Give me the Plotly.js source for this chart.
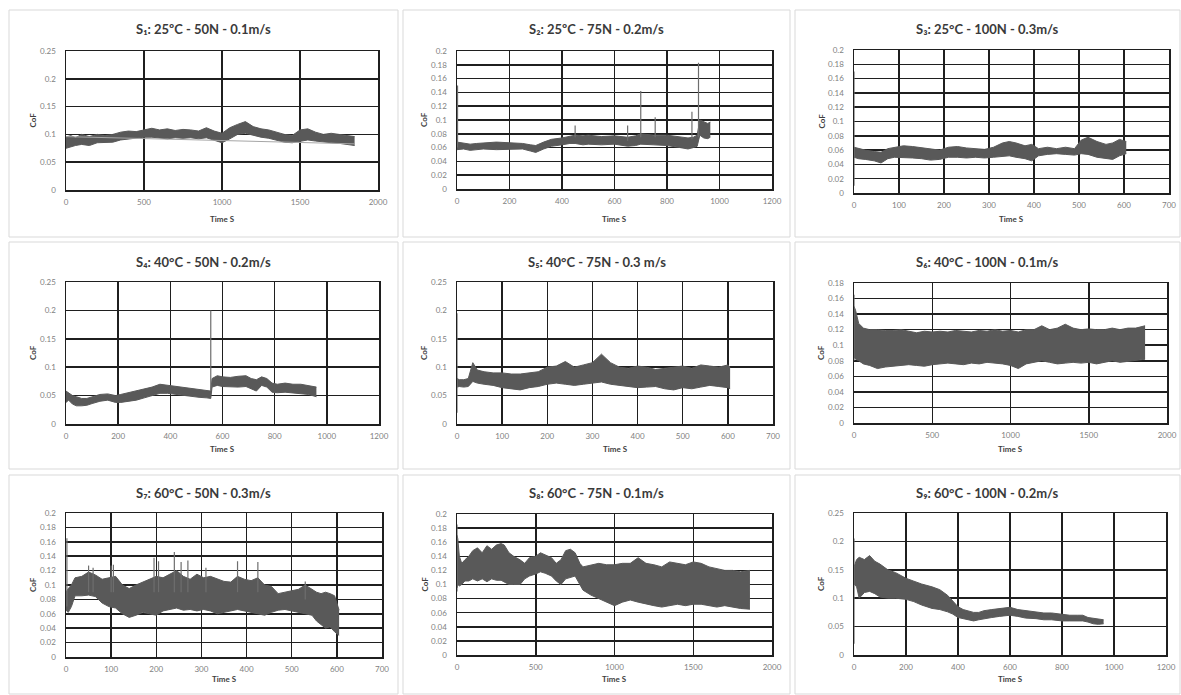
<!DOCTYPE html>
<html>
<head>
<meta charset="utf-8">
<script src="https://cdn.plot.ly/plotly-3.0.1.min.js"></script>
<style>html,body{margin:0;padding:0;background:#fff;}#chart{width:1181px;height:695px;}</style>
</head>
<body>
<div id="chart"></div>
<script>
// ---------- Titles ----------
const titles = [
  "S₁: 25ºC - 50N - 0.1m/s",
  "S₂: 25ºC - 75N - 0.2m/s",
  "S₃: 25°C - 100N - 0.3m/s",
  "S₄: 40°C - 50N - 0.2m/s",
  "S₅: 40°C - 75N - 0.3 m/s",
  "S₆: 40°C - 100N - 0.1m/s",
  "S₇: 60°C - 50N - 0.3m/s",
  "S₈: 60°C - 75N - 0.1m/s",
  "S₉: 60°C - 100N - 0.2m/s"
];
const xTitle = "Time S";
const yTitle = "CoF";

// ---------- Axis scales ----------
const xMax  = [2000, 1200, 700, 1200, 700, 2000, 700, 2000, 1200];
const xStep = [500, 200, 100, 200, 100, 500, 100, 500, 200];
const yMax  = [0.25, 0.2, 0.2, 0.25, 0.25, 0.18, 0.2, 0.2, 0.25];
const yStep = [0.05, 0.02, 0.02, 0.05, 0.05, 0.02, 0.02, 0.02, 0.05];

// ---------- S1 ----------
const s1_t  = [0,30,60,100,150,200,250,300,350,400,450,500,550,600,650,700,750,800,850,900,950,1000,1050,1100,1150,1200,1250,1300,1350,1400,1450,1500,1550,1600,1650,1700,1750,1800,1850];
const s1_hi = [0.095,0.098,0.094,0.1,0.096,0.1,0.098,0.1,0.104,0.106,0.105,0.108,0.111,0.108,0.11,0.107,0.109,0.108,0.106,0.112,0.106,0.102,0.112,0.118,0.123,0.114,0.11,0.108,0.104,0.1,0.098,0.108,0.11,0.104,0.1,0.102,0.1,0.098,0.096];
const s1_lo = [0.075,0.078,0.08,0.082,0.08,0.085,0.085,0.086,0.09,0.092,0.094,0.095,0.095,0.094,0.092,0.094,0.093,0.094,0.092,0.094,0.09,0.085,0.092,0.1,0.102,0.098,0.095,0.093,0.09,0.086,0.085,0.088,0.09,0.088,0.086,0.085,0.084,0.082,0.08];
const s1_spikeT = [], s1_spikeLo = [], s1_spikeHi = [];
const s1_trendT = [0, 1850], s1_trendY = [0.096, 0.083];

// ---------- S2 ----------
const s2_t  = [0,25,50,75,100,150,200,250,280,300,330,360,400,430,450,480,500,550,600,650,680,700,750,800,850,880,900,915,925,940,955,965];
const s2_hi = [0.068,0.066,0.065,0.066,0.067,0.068,0.067,0.066,0.064,0.063,0.068,0.072,0.074,0.076,0.078,0.077,0.078,0.076,0.077,0.075,0.077,0.08,0.078,0.078,0.076,0.074,0.075,0.078,0.1,0.098,0.095,0.097];
const s2_lo = [0.057,0.058,0.056,0.057,0.058,0.057,0.058,0.058,0.055,0.053,0.058,0.062,0.064,0.066,0.066,0.064,0.065,0.064,0.065,0.062,0.063,0.065,0.064,0.063,0.06,0.058,0.06,0.062,0.078,0.074,0.073,0.075];
const s2_spikeT  = [2,450,650,700,755,895,920];
const s2_spikeLo = [0.06,0.075,0.07,0.075,0.075,0.072,0.075];
const s2_spikeHi = [0.15,0.092,0.092,0.142,0.104,0.112,0.183];

// ---------- S3 ----------
const s3_t  = [0,10,25,45,60,75,90,110,130,150,170,190,210,230,250,270,290,310,330,345,360,380,395,410,430,450,470,490,505,520,540,560,575,590,605];
const s3_hi = [0.064,0.062,0.06,0.058,0.057,0.062,0.064,0.066,0.065,0.063,0.061,0.06,0.064,0.065,0.063,0.062,0.061,0.064,0.07,0.072,0.07,0.066,0.068,0.062,0.064,0.062,0.064,0.062,0.074,0.078,0.072,0.068,0.07,0.075,0.072];
const s3_lo = [0.05,0.048,0.047,0.045,0.042,0.048,0.05,0.05,0.049,0.048,0.046,0.047,0.05,0.05,0.049,0.05,0.049,0.05,0.051,0.052,0.05,0.048,0.045,0.052,0.054,0.055,0.054,0.053,0.055,0.054,0.05,0.048,0.047,0.052,0.055];
const s3_spikeT = [0], s3_spikeLo = [0.01], s3_spikeHi = [0.17];

// ---------- S4 ----------
const s4_t  = [0,10,25,40,60,80,100,130,160,190,210,240,270,300,330,360,390,420,450,480,510,540,555,560,580,600,630,660,690,710,730,750,770,790,810,840,870,900,930,960];
const s4_hi = [0.058,0.055,0.05,0.048,0.045,0.045,0.048,0.052,0.053,0.05,0.052,0.055,0.058,0.062,0.065,0.07,0.068,0.066,0.064,0.062,0.06,0.058,0.058,0.08,0.085,0.083,0.082,0.084,0.085,0.08,0.078,0.083,0.08,0.072,0.07,0.072,0.07,0.07,0.068,0.065];
const s4_lo = [0.038,0.042,0.035,0.032,0.032,0.033,0.036,0.04,0.042,0.038,0.038,0.04,0.042,0.046,0.05,0.054,0.054,0.052,0.05,0.048,0.047,0.046,0.045,0.065,0.068,0.066,0.065,0.065,0.066,0.062,0.058,0.068,0.065,0.056,0.055,0.056,0.055,0.054,0.052,0.048];
const s4_spikeT = [555], s4_spikeLo = [0.06], s4_spikeHi = [0.2];

// ---------- S5 ----------
const s5_t  = [0,5,15,25,35,45,60,80,100,120,140,160,180,200,220,240,260,280,300,320,340,360,380,400,420,440,460,480,500,520,540,560,580,600,605];
const s5_hi = [0.08,0.078,0.078,0.08,0.108,0.095,0.092,0.09,0.09,0.088,0.088,0.09,0.092,0.1,0.102,0.11,0.1,0.104,0.108,0.123,0.108,0.1,0.098,0.102,0.1,0.096,0.098,0.1,0.102,0.098,0.104,0.102,0.1,0.104,0.1];
const s5_lo = [0.065,0.066,0.065,0.066,0.075,0.072,0.07,0.068,0.064,0.062,0.06,0.064,0.066,0.07,0.072,0.07,0.068,0.07,0.072,0.074,0.07,0.068,0.066,0.064,0.065,0.066,0.062,0.06,0.064,0.062,0.065,0.068,0.066,0.064,0.062];
const s5_spikeT = [0], s5_spikeLo = [0.02], s5_spikeHi = [0.195];

// ---------- S6 ----------
const s6_t  = [0,10,30,60,100,150,200,250,300,350,400,450,500,550,600,650,700,750,800,850,900,950,1000,1050,1100,1150,1200,1250,1300,1350,1400,1450,1500,1550,1600,1650,1700,1750,1800,1860];
const s6_hi = [0.15,0.145,0.128,0.122,0.12,0.12,0.119,0.119,0.12,0.118,0.116,0.118,0.117,0.118,0.117,0.119,0.118,0.117,0.119,0.118,0.12,0.118,0.119,0.117,0.12,0.12,0.125,0.12,0.122,0.127,0.122,0.12,0.121,0.12,0.12,0.122,0.12,0.122,0.122,0.125];
const s6_lo = [0.085,0.082,0.08,0.076,0.074,0.07,0.072,0.073,0.074,0.075,0.074,0.073,0.075,0.076,0.077,0.076,0.075,0.077,0.076,0.078,0.077,0.076,0.074,0.07,0.076,0.078,0.08,0.078,0.076,0.077,0.078,0.077,0.078,0.076,0.078,0.08,0.078,0.079,0.08,0.082];
const s6_spikeT = [0], s6_spikeLo = [0.08], s6_spikeHi = [0.165];

// ---------- S7 ----------
const s7_t  = [0,5,12,20,35,50,65,80,95,110,125,140,155,170,185,200,215,230,245,260,275,290,305,320,335,350,365,380,395,410,425,440,455,470,485,500,515,530,545,555,565,575,585,595,605];
const s7_hi = [0.09,0.095,0.1,0.11,0.112,0.118,0.114,0.108,0.11,0.112,0.1,0.095,0.1,0.104,0.108,0.112,0.11,0.115,0.12,0.112,0.108,0.115,0.11,0.112,0.108,0.105,0.104,0.112,0.108,0.106,0.11,0.1,0.098,0.088,0.09,0.092,0.094,0.1,0.094,0.09,0.088,0.09,0.088,0.085,0.065];
const s7_lo = [0.065,0.062,0.07,0.085,0.085,0.086,0.084,0.075,0.07,0.068,0.06,0.055,0.058,0.062,0.06,0.058,0.064,0.066,0.068,0.065,0.066,0.064,0.066,0.064,0.06,0.062,0.064,0.066,0.064,0.062,0.06,0.058,0.062,0.065,0.066,0.064,0.062,0.06,0.058,0.05,0.045,0.04,0.042,0.035,0.03];
const s7_spikeT  = [2,50,60,100,105,195,205,240,255,270,310,380,425,530];
const s7_spikeLo = [0.07,0.09,0.09,0.09,0.09,0.09,0.09,0.09,0.09,0.09,0.09,0.09,0.09,0.08];
const s7_spikeHi = [0.165,0.127,0.124,0.127,0.128,0.138,0.133,0.146,0.132,0.134,0.124,0.133,0.132,0.105];

// ---------- S8 ----------
const s8_t  = [0,5,15,30,50,75,100,130,160,190,220,250,280,300,330,360,400,430,460,500,530,560,600,630,660,690,720,750,780,800,850,900,950,1000,1050,1100,1150,1200,1250,1300,1350,1400,1450,1500,1550,1600,1650,1700,1750,1800,1860];
const s8_hi = [0.17,0.165,0.14,0.13,0.135,0.14,0.148,0.152,0.145,0.155,0.15,0.156,0.158,0.156,0.145,0.14,0.135,0.13,0.138,0.14,0.145,0.142,0.138,0.13,0.135,0.148,0.15,0.145,0.13,0.125,0.128,0.13,0.128,0.128,0.13,0.13,0.138,0.13,0.128,0.125,0.132,0.13,0.128,0.132,0.13,0.125,0.122,0.12,0.12,0.118,0.12];
const s8_lo = [0.095,0.1,0.098,0.1,0.105,0.105,0.108,0.105,0.108,0.104,0.108,0.106,0.106,0.104,0.1,0.1,0.1,0.108,0.112,0.115,0.118,0.116,0.112,0.105,0.1,0.108,0.11,0.112,0.1,0.092,0.085,0.08,0.075,0.07,0.075,0.078,0.075,0.072,0.07,0.068,0.07,0.072,0.07,0.072,0.072,0.07,0.068,0.07,0.068,0.066,0.065];
const s8_spikeT = [0], s8_spikeLo = [0.09], s8_spikeHi = [0.185];

// ---------- S9 ----------
const s9_t  = [0,10,20,40,60,80,100,130,160,200,230,260,300,330,360,380,400,420,440,460,480,500,530,560,600,630,660,700,730,760,800,830,860,880,900,920,940,960];
const s9_hi = [0.155,0.168,0.172,0.168,0.175,0.165,0.16,0.15,0.145,0.135,0.13,0.125,0.12,0.115,0.105,0.095,0.085,0.08,0.078,0.075,0.075,0.078,0.08,0.082,0.084,0.08,0.078,0.076,0.074,0.074,0.072,0.07,0.07,0.07,0.066,0.065,0.064,0.062];
const s9_lo = [0.125,0.12,0.1,0.11,0.112,0.108,0.102,0.1,0.1,0.098,0.094,0.088,0.082,0.08,0.076,0.072,0.066,0.064,0.062,0.06,0.062,0.064,0.066,0.068,0.07,0.068,0.065,0.064,0.062,0.062,0.06,0.06,0.06,0.06,0.058,0.055,0.054,0.055];
const s9_spikeT = [0], s9_spikeLo = [0.02], s9_spikeHi = [0.205];

const panels = [
  {t:s1_t, hi:s1_hi, lo:s1_lo, sT:s1_spikeT, sLo:s1_spikeLo, sHi:s1_spikeHi, trT:s1_trendT, trY:s1_trendY},
  {t:s2_t, hi:s2_hi, lo:s2_lo, sT:s2_spikeT, sLo:s2_spikeLo, sHi:s2_spikeHi},
  {t:s3_t, hi:s3_hi, lo:s3_lo, sT:s3_spikeT, sLo:s3_spikeLo, sHi:s3_spikeHi},
  {t:s4_t, hi:s4_hi, lo:s4_lo, sT:s4_spikeT, sLo:s4_spikeLo, sHi:s4_spikeHi},
  {t:s5_t, hi:s5_hi, lo:s5_lo, sT:s5_spikeT, sLo:s5_spikeLo, sHi:s5_spikeHi},
  {t:s6_t, hi:s6_hi, lo:s6_lo, sT:s6_spikeT, sLo:s6_spikeLo, sHi:s6_spikeHi},
  {t:s7_t, hi:s7_hi, lo:s7_lo, sT:s7_spikeT, sLo:s7_spikeLo, sHi:s7_spikeHi},
  {t:s8_t, hi:s8_hi, lo:s8_lo, sT:s8_spikeT, sLo:s8_spikeLo, sHi:s8_spikeHi},
  {t:s9_t, hi:s9_hi, lo:s9_lo, sT:s9_spikeT, sLo:s9_spikeLo, sHi:s9_spikeHi}
];

// ---------- Layout geometry (pixels) ----------
const W = 1181, H = 695;
const plotBoxes = [ // [left, right, top, bottom]
  [66,378,51,190],[457,772,51,189],[854,1169,50,193],
  [66,379,282,424],[457,773,282,424],[854,1167,283,423],
  [66,382,513,657],[457,772,514,655],[854,1166,513,655]
];
const colBoxes = [[9,398],[403,790],[795,1180]];
const rowBoxes = [[10,237],[242,469],[475,694]];
const titleY = [29, 262, 493];
const xTitleY = [219, 449, 679];
const yTitleX = [33, 424, 821];

const FONT = "Lato, 'Open Sans', sans-serif";
const DARK = "#595959";
const GRID = "#1f1f1f";

const traces = [];
const layout = {
  width: W, height: H,
  margin: {l:0, r:0, t:0, b:0},
  paper_bgcolor: "#fff",
  plot_bgcolor: "#fff",
  showlegend: false,
  font: {family: FONT, size: 8, color: "#404040"},
  shapes: [],
  annotations: []
};

panels.forEach((p, i) => {
  const n = i + 1;
  const xa = n === 1 ? "x" : "x" + n;
  const ya = n === 1 ? "y" : "y" + n;
  const b = plotBoxes[i];
  traces.push({x: p.t, y: p.lo, xaxis: xa, yaxis: ya, type: "scatter", mode: "lines",
    line: {color: DARK, width: 1}, hoverinfo: "skip"});
  traces.push({x: p.t, y: p.hi, xaxis: xa, yaxis: ya, type: "scatter", mode: "lines",
    line: {color: DARK, width: 1}, fill: "tonexty", fillcolor: DARK, hoverinfo: "skip"});
  if (p.sT && p.sT.length) {
    const sx = [], sy = [];
    p.sT.forEach((t, k) => { sx.push(t, t, null); sy.push(p.sLo[k], p.sHi[k], null); });
    traces.push({x: sx, y: sy, xaxis: xa, yaxis: ya, type: "scatter", mode: "lines",
      line: {color: "#6e6e6e", width: 1.2}, connectgaps: false, hoverinfo: "skip"});
  }
  if (p.trT) {
    traces.push({x: p.trT, y: p.trY, xaxis: xa, yaxis: ya, type: "scatter", mode: "lines",
      line: {color: "#a6a6a6", width: 1}, hoverinfo: "skip"});
  }
  const axKey = n === 1 ? "" : String(n);
  layout["xaxis" + axKey] = {
    domain: [b[0] / W, b[1] / W],
    anchor: ya,
    range: [0, xMax[i]], dtick: xStep[i], tick0: 0,
    showgrid: true, gridcolor: GRID, gridwidth: 1.5,
    showline: true, linecolor: GRID, linewidth: 1.5, mirror: true,
    zeroline: false, ticks: "", ticklabelstandoff: 4,
    tickfont: {family: FONT, size: 8, color: "#7f7f7f"},
    fixedrange: true
  };
  layout["yaxis" + axKey] = {
    domain: [1 - b[3] / H, 1 - b[2] / H],
    anchor: xa,
    range: [0, yMax[i]], dtick: yStep[i], tick0: 0,
    showgrid: true, gridcolor: GRID, gridwidth: 1.5,
    showline: true, linecolor: GRID, linewidth: 1.5, mirror: true,
    zeroline: false, ticks: "", ticklabelstandoff: 7,
    tickfont: {family: FONT, size: 8, color: "#7f7f7f"},
    fixedrange: true
  };
  const col = i % 3, row = Math.floor(i / 3);
  const cb = colBoxes[col], rb = rowBoxes[row];
  layout.shapes.push({type: "rect", xref: "paper", yref: "paper",
    x0: cb[0] / W, x1: cb[1] / W, y0: 1 - rb[1] / H, y1: 1 - rb[0] / H,
    line: {color: "#d9d9d9", width: 1}, layer: "below"});
  layout.annotations.push({
    text: titles[i], xref: "paper", yref: "paper",
    x: (cb[0] + cb[1]) / 2 / W, y: 1 - titleY[row] / H,
    xanchor: "center", yanchor: "middle", showarrow: false,
    font: {family: FONT, size: 13, color: "#3a3a3a", weight: "bold"}
  });
  layout.annotations.push({
    text: xTitle, xref: "paper", yref: "paper",
    x: (b[0] + b[1]) / 2 / W, y: 1 - xTitleY[row] / H,
    xanchor: "center", yanchor: "middle", showarrow: false,
    font: {family: FONT, size: 8, color: "#404040", weight: "bold"}
  });
  layout.annotations.push({
    text: yTitle, xref: "paper", yref: "paper", textangle: -90,
    x: yTitleX[col] / W, y: 1 - (b[2] + b[3]) / 2 / H,
    xanchor: "center", yanchor: "middle", showarrow: false,
    font: {family: FONT, size: 8, color: "#404040", weight: "bold"}
  });
});

Plotly.newPlot("chart", traces, layout, {staticPlot: true, displayModeBar: false});
</script>
</body>
</html>
